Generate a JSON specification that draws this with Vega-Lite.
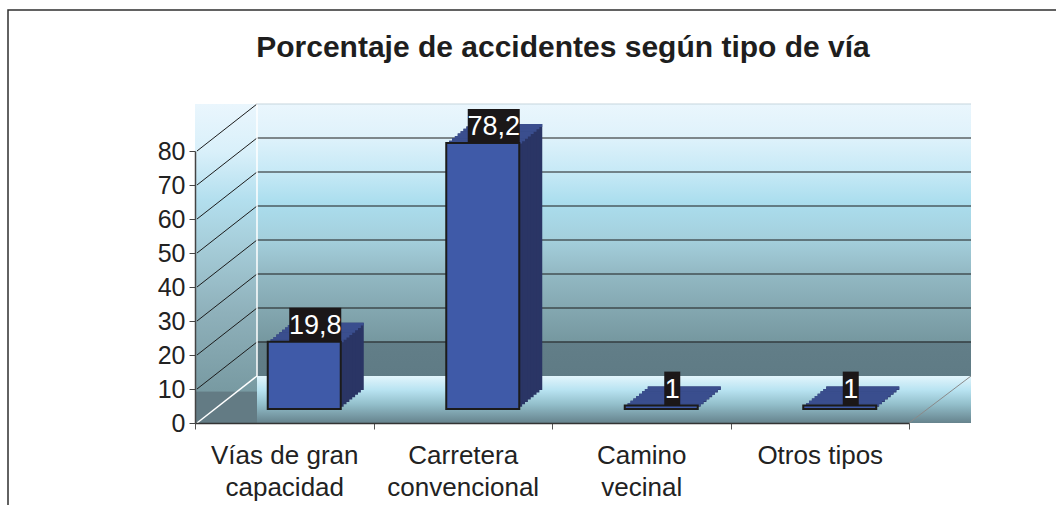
{
  "$schema": "https://vega.github.io/schema/vega-lite/v6.json",
  "width": 1050,
  "height": 497,
  "autosize": {"type": "none"},
  "padding": {"left": 8, "top": 10, "right": 0, "bottom": 0},
  "background": "white",
  "title": {"text": "Porcentaje de accidentes según tipo de vía", "fontSize": 30, "fontWeight": "bold", "color": "#1e1e1e", "anchor": "middle", "offset": -46, "dx": 30, "dy": 31, "baseline": "alphabetic", "font": "Liberation Sans"},
  "config": {
    "font": "Liberation Sans",
    "view": {"stroke": "#2f2f2f", "strokeWidth": 1.5, "fill": null},
    "locale": {"number": {"decimal": ",", "thousands": ".", "grouping": [3], "currency": ["", " €"]}}
  },
  "data": {"values": [
    {"tipo": "Vías de gran capacidad", "valor": 19.8},
    {"tipo": "Carretera convencional", "valor": 78.2},
    {"tipo": "Camino vecinal", "valor": 1},
    {"tipo": "Otros tipos", "valor": 1}
  ]},
  "layer": [
    {"transform": [{"filter": "datum.tipo == 'Otros tipos'"}],
     "mark": {"type": "rect", "xOffset": 0, "x2Offset": 62, "yOffset": -47, "y2Offset": 0,
       "color": {"gradient": "linear", "x1": 0, "y1": 0, "x2": 0, "y2": 1, "stops": [
         {"offset": 0, "color": "#eaf6fd"}, {"offset": 0.15, "color": "#d9f0fa"}, {"offset": 0.3, "color": "#b3dfee"},
         {"offset": 0.45, "color": "#a5ccd8"}, {"offset": 0.65, "color": "#8fb1bb"}, {"offset": 0.9, "color": "#789aa2"},
         {"offset": 0.903, "color": "#637b84"}, {"offset": 1, "color": "#637b84"}]}},
     "encoding": {
       "x": {"datum": "Vías de gran capacidad", "bandPosition": 0, "type": "nominal",
         "scale": {"type": "band", "domain": ["Vías de gran capacidad", "Carretera convencional", "Camino vecinal", "Otros tipos"], "range": [187, 901], "paddingInner": 0, "paddingOuter": 0},
         "axis": {"orient": "bottom", "offset": -84, "zindex": 1, "tickBand": "extent", "tickSize": 6, "tickColor": "#555", "domainColor": "#333", "domainWidth": 1.5, "labelFontSize": 26, "labelColor": "#222", "labelPadding": 13, "labelLineHeight": 32, "labelAngle": 0, "labelLimit": 0, "title": null,
           "labelExpr": "datum.value == 'Vías de gran capacidad' ? ['Vías de gran', 'capacidad'] : datum.value == 'Carretera convencional' ? ['Carretera', 'convencional'] : datum.value == 'Camino vecinal' ? ['Camino', 'vecinal'] : datum.value"}},
       "x2": {"datum": "Vías de gran capacidad", "bandPosition": 0},
       "y": {"datum": 80, "type": "quantitative",
         "scale": {"domain": [0, 80], "range": [413, 141], "nice": false, "zero": true},
         "axis": {"orient": "left", "offset": -187, "zindex": 1, "values": [0, 10, 20, 30, 40, 50, 60, 70, 80], "grid": false, "title": null, "tickSize": 6, "tickColor": "#444", "domainColor": "#444", "domainWidth": 1.5, "labelFontSize": 25, "labelColor": "#222", "labelPadding": 4, "format": "d"}},
       "y2": {"datum": 0}}},
    {"transform": [{"filter": "datum.tipo == 'Otros tipos'"}],
     "mark": {"type": "rect", "xOffset": 62, "x2Offset": 62, "yOffset": -47, "y2Offset": -47,
       "color": {"gradient": "linear", "x1": 0, "y1": 0, "x2": 0, "y2": 1, "stops": [
         {"offset": 0, "color": "#eaf6fd"}, {"offset": 0.12, "color": "#dff2fb"}, {"offset": 0.25, "color": "#c6e9f6"},
         {"offset": 0.36, "color": "#abdeee"}, {"offset": 0.5, "color": "#a4cfdc"}, {"offset": 0.62, "color": "#93b9c4"},
         {"offset": 0.75, "color": "#84a8b1"}, {"offset": 0.87, "color": "#7698a0"}, {"offset": 0.875, "color": "#627e88"},
         {"offset": 1, "color": "#5f7b85"}]}},
     "encoding": {"x": {"datum": "Vías de gran capacidad", "bandPosition": 0, "type": "nominal"}, "x2": {"datum": "Otros tipos", "bandPosition": 1},
       "y": {"datum": 80, "type": "quantitative"}, "y2": {"datum": 0}}},
    {"transform": [{"filter": "datum.tipo == 'Otros tipos'"}],
     "mark": {"type": "rect", "xOffset": 62, "x2Offset": 62, "yOffset": -47, "y2Offset": 0,
       "color": {"gradient": "linear", "x1": 0, "y1": 0, "x2": 0, "y2": 1, "stops": [
         {"offset": 0, "color": "#e2f5fc"}, {"offset": 0.3, "color": "#b8e3f1"}, {"offset": 0.6, "color": "#93bfcb"},
         {"offset": 1, "color": "#66838d"}]}},
     "encoding": {"x": {"datum": "Vías de gran capacidad", "bandPosition": 0, "type": "nominal"}, "x2": {"datum": "Otros tipos", "bandPosition": 1},
       "y": {"datum": 0, "type": "quantitative"}, "y2": {"datum": 0}}},
    {"data": {"values": [{"v": 10}, {"v": 20}, {"v": 30}, {"v": 40}, {"v": 50}, {"v": 60}, {"v": 70}]},
     "mark": {"type": "rule", "color": "#1c1c1c", "strokeWidth": 1.2, "xOffset": 62, "x2Offset": 62, "yOffset": -47},
     "encoding": {"x": {"datum": "Vías de gran capacidad", "bandPosition": 0, "type": "nominal"}, "x2": {"datum": "Otros tipos", "bandPosition": 1},
       "y": {"field": "v", "type": "quantitative"}}},
    {"data": {"values": [{"v": 10}, {"v": 20}, {"v": 30}, {"v": 40}, {"v": 50}, {"v": 60}, {"v": 70}, {"v": 80}]},
     "mark": {"type": "rule", "color": "#1c1c1c", "strokeWidth": 1, "xOffset": 2, "x2Offset": 62, "yOffset": 0, "y2Offset": -47},
     "encoding": {"x": {"datum": "Vías de gran capacidad", "bandPosition": 0, "type": "nominal"}, "x2": {"datum": "Vías de gran capacidad", "bandPosition": 0},
       "y": {"field": "v", "type": "quantitative"}, "y2": {"field": "v"}}},
    {"data": {"values": [{"v": 0}]},
     "mark": {"type": "rule", "color": "white", "strokeWidth": 1.5, "xOffset": 2, "x2Offset": 62, "yOffset": 0, "y2Offset": -47},
     "encoding": {"x": {"datum": "Vías de gran capacidad", "bandPosition": 0, "type": "nominal"}, "x2": {"datum": "Vías de gran capacidad", "bandPosition": 0},
       "y": {"field": "v", "type": "quantitative"}, "y2": {"field": "v"}}},
    {"transform": [{"filter": "datum.tipo == 'Otros tipos'"}],
     "mark": {"type": "rule", "color": "white", "strokeWidth": 1.5, "xOffset": 62, "yOffset": -47, "y2Offset": -47},
     "encoding": {"x": {"datum": "Vías de gran capacidad", "bandPosition": 0, "type": "nominal"}, "y": {"datum": 80, "type": "quantitative"}, "y2": {"datum": 0}}},
    {"transform": [{"filter": "datum.tipo == 'Otros tipos'"}],
     "mark": {"type": "rule", "color": "#c5d6de", "strokeWidth": 1.2, "xOffset": 62, "x2Offset": 62, "yOffset": -47},
     "encoding": {"x": {"datum": "Vías de gran capacidad", "bandPosition": 0, "type": "nominal"}, "x2": {"datum": "Otros tipos", "bandPosition": 1}, "y": {"datum": 80, "type": "quantitative"}}},
    {"transform": [{"filter": "datum.tipo == 'Otros tipos'"}],
     "mark": {"type": "rule", "color": "#8a8a8a", "strokeWidth": 1, "xOffset": 0, "x2Offset": 62, "yOffset": 0, "y2Offset": -47},
     "encoding": {"x": {"datum": "Otros tipos", "bandPosition": 1, "type": "nominal"}, "x2": {"datum": "Otros tipos", "bandPosition": 1}, "y": {"datum": 0, "type": "quantitative"}, "y2": {"datum": 0}}},

    {"mark": {"type": "bar", "width": 73, "color": "#2a3565", "xOffset": 43, "yOffset": -33, "y2Offset": -33}, "encoding": {"x": {"field": "tipo", "type": "nominal", "sort": null}, "y": {"field": "valor", "type": "quantitative"}, "y2": {"datum": 0}}},
    {"mark": {"type": "bar", "width": 73, "color": "#2a3565", "xOffset": 40.125, "yOffset": -30.625, "y2Offset": -30.625}, "encoding": {"x": {"field": "tipo", "type": "nominal", "sort": null}, "y": {"field": "valor", "type": "quantitative"}, "y2": {"datum": 0}}},
    {"mark": {"type": "bar", "width": 73, "color": "#2a3565", "xOffset": 37.25, "yOffset": -28.25, "y2Offset": -28.25}, "encoding": {"x": {"field": "tipo", "type": "nominal", "sort": null}, "y": {"field": "valor", "type": "quantitative"}, "y2": {"datum": 0}}},
    {"mark": {"type": "bar", "width": 73, "color": "#2a3565", "xOffset": 34.375, "yOffset": -25.875, "y2Offset": -25.875}, "encoding": {"x": {"field": "tipo", "type": "nominal", "sort": null}, "y": {"field": "valor", "type": "quantitative"}, "y2": {"datum": 0}}},
    {"mark": {"type": "bar", "width": 73, "color": "#2a3565", "xOffset": 31.5, "yOffset": -23.5, "y2Offset": -23.5}, "encoding": {"x": {"field": "tipo", "type": "nominal", "sort": null}, "y": {"field": "valor", "type": "quantitative"}, "y2": {"datum": 0}}},
    {"mark": {"type": "bar", "width": 73, "color": "#2a3565", "xOffset": 28.625, "yOffset": -21.125, "y2Offset": -21.125}, "encoding": {"x": {"field": "tipo", "type": "nominal", "sort": null}, "y": {"field": "valor", "type": "quantitative"}, "y2": {"datum": 0}}},
    {"mark": {"type": "bar", "width": 73, "color": "#2a3565", "xOffset": 25.75, "yOffset": -18.75, "y2Offset": -18.75}, "encoding": {"x": {"field": "tipo", "type": "nominal", "sort": null}, "y": {"field": "valor", "type": "quantitative"}, "y2": {"datum": 0}}},
    {"mark": {"type": "bar", "width": 73, "color": "#2a3565", "xOffset": 22.875, "yOffset": -16.375, "y2Offset": -16.375}, "encoding": {"x": {"field": "tipo", "type": "nominal", "sort": null}, "y": {"field": "valor", "type": "quantitative"}, "y2": {"datum": 0}}},

    {"mark": {"type": "bar", "width": 73, "color": "#3a4e8e", "xOffset": 43, "yOffset": -33, "y2Offset": -30.1}, "encoding": {"x": {"field": "tipo", "type": "nominal", "sort": null}, "y": {"field": "valor", "type": "quantitative"}, "y2": {"field": "valor"}}},
    {"mark": {"type": "bar", "width": 73, "color": "#3a4e8e", "xOffset": 40.125, "yOffset": -30.625, "y2Offset": -27.75}, "encoding": {"x": {"field": "tipo", "type": "nominal", "sort": null}, "y": {"field": "valor", "type": "quantitative"}, "y2": {"field": "valor"}}},
    {"mark": {"type": "bar", "width": 73, "color": "#3a4e8e", "xOffset": 37.25, "yOffset": -28.25, "y2Offset": -25.4}, "encoding": {"x": {"field": "tipo", "type": "nominal", "sort": null}, "y": {"field": "valor", "type": "quantitative"}, "y2": {"field": "valor"}}},
    {"mark": {"type": "bar", "width": 73, "color": "#3a4e8e", "xOffset": 34.375, "yOffset": -25.875, "y2Offset": -23}, "encoding": {"x": {"field": "tipo", "type": "nominal", "sort": null}, "y": {"field": "valor", "type": "quantitative"}, "y2": {"field": "valor"}}},
    {"mark": {"type": "bar", "width": 73, "color": "#3a4e8e", "xOffset": 31.5, "yOffset": -23.5, "y2Offset": -20.6}, "encoding": {"x": {"field": "tipo", "type": "nominal", "sort": null}, "y": {"field": "valor", "type": "quantitative"}, "y2": {"field": "valor"}}},
    {"mark": {"type": "bar", "width": 73, "color": "#3a4e8e", "xOffset": 28.625, "yOffset": -21.125, "y2Offset": -18.25}, "encoding": {"x": {"field": "tipo", "type": "nominal", "sort": null}, "y": {"field": "valor", "type": "quantitative"}, "y2": {"field": "valor"}}},
    {"mark": {"type": "bar", "width": 73, "color": "#3a4e8e", "xOffset": 25.75, "yOffset": -18.75, "y2Offset": -15.9}, "encoding": {"x": {"field": "tipo", "type": "nominal", "sort": null}, "y": {"field": "valor", "type": "quantitative"}, "y2": {"field": "valor"}}},
    {"mark": {"type": "bar", "width": 73, "color": "#3a4e8e", "xOffset": 22.875, "yOffset": -16.375, "y2Offset": -13.5}, "encoding": {"x": {"field": "tipo", "type": "nominal", "sort": null}, "y": {"field": "valor", "type": "quantitative"}, "y2": {"field": "valor"}}},

    {"mark": {"type": "bar", "width": 73, "color": "#3f5aa8", "stroke": "#1b1b1b", "strokeWidth": 2, "xOffset": 20, "yOffset": -14, "y2Offset": -14}, "encoding": {"x": {"field": "tipo", "type": "nominal", "sort": null}, "y": {"field": "valor", "type": "quantitative"}, "y2": {"datum": 0}}},

    {"mark": {"type": "bar", "color": "#1b1718", "xOffset": 31, "yOffset": -48, "y2Offset": -14},
     "encoding": {"x": {"field": "tipo", "type": "nominal", "sort": null}, "y": {"field": "valor", "type": "quantitative"}, "y2": {"field": "valor"}, "size": {"condition": {"test": "datum.valor > 5", "value": 52}, "value": 16}}},
    {"mark": {"type": "text", "color": "white", "fontSize": 27, "xOffset": 31, "yOffset": -30, "baseline": "middle", "align": "center"},
     "encoding": {"x": {"field": "tipo", "type": "nominal", "sort": null}, "y": {"field": "valor", "type": "quantitative"}, "text": {"field": "valor", "type": "quantitative", "format": "~g"}}}
  ]
}
